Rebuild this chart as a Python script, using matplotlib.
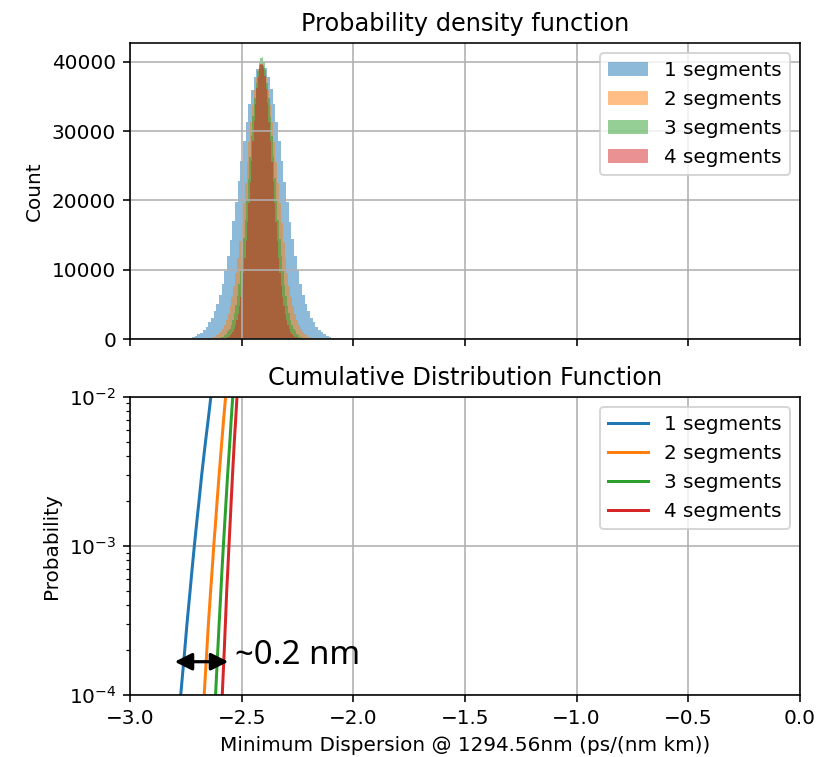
import numpy as np
import matplotlib
matplotlib.use("Agg")
import matplotlib.pyplot as plt

# --- data ---
SEGMENT_LABELS = ["1 segments", "2 segments", "3 segments", "4 segments"]

# histogram: first bin edge and bin width of each series, then the counts (left to right)
HIST_LO = [-2.734, -2.6395, -2.599, -2.572]
HIST_BIN_WIDTH = [0.012, 0.0085, 0.007, 0.006]

counts_1seg = [
    200, 330, 460, 690, 940, 1320, 1780, 2420, 3080, 4020, 5080, 6420, 7980, 9870,
    12050, 14350, 17050, 19750, 22750, 25650, 28650, 31250, 33950, 35950, 37850, 38950, 39550,
    39450, 39050, 37750, 36050, 33850, 31350, 28550, 25750, 22650, 19850, 16950, 14450, 11950,
    9920, 7980, 6430, 5060, 4030, 3090, 2410, 1790, 1310, 960, 670, 480, 310, 220,
]
counts_2seg = [
    160, 250, 360, 540, 770, 1090, 1490, 2080, 2770, 3680, 4760, 6080, 7660, 9560,
    11720, 14120, 16780, 19640, 22580, 25560, 28500, 31280, 33820, 35980, 37720, 38900, 39560,
    39500, 38880, 37760, 35940, 33760, 31300, 28460, 25520, 22520, 19580, 16760, 14080, 11700,
    9520, 7640, 6060, 4720, 3640, 2740, 2060, 1480, 1070, 760, 530, 370, 240, 160,
]
counts_3seg = [
    170, 245, 380, 550, 770, 1110, 1520, 2100, 2800, 3730, 4870, 6210, 7890, 9780,
    12040, 14520, 17180, 20140, 23120, 26260, 29230, 32160, 34720, 37010, 38730, 40020, 40580,
    40660, 39960, 38790, 36950, 34780, 32100, 29290, 26200, 23180, 20080, 17220, 14460, 12030,
    9810, 7860, 6250, 4830, 3740, 2800, 2100, 1520, 1110, 770, 550, 370, 255, 160,
]
counts_4seg = [
    155, 255, 365, 525, 770, 1060, 1500, 2050, 2760, 3650, 4730, 6100, 7690, 9600,
    11760, 14150, 16850, 19700, 22610, 25680, 28580, 31450, 33950, 36200, 37880, 39140, 39700,
    39740, 39080, 37930, 36140, 34010, 31390, 28640, 25620, 22660, 19640, 16840, 14150, 11770,
    9560, 7720, 6070, 4760, 3620, 2760, 2030, 1500, 1060, 770, 520, 375, 245, 165,
]
HIST_COUNTS = [counts_1seg, counts_2seg, counts_3seg, counts_4seg]

# cumulative distribution: probability levels and the dispersion value reached at each
CDF_PROB = [5e-5, 1e-4, 2e-4, 3e-4, 5e-4, 7e-4, 1e-3, 1.5e-3, 2e-3, 3e-3, 5e-3, 7e-3, 1e-2, 1.5e-2]
cdf_1seg = [-2.789, -2.773, -2.755, -2.745, -2.731, -2.722, -2.712,
            -2.700, -2.691, -2.679, -2.662, -2.650, -2.638, -2.622]
cdf_2seg = [-2.680, -2.668, -2.656, -2.649, -2.639, -2.632, -2.625,
            -2.616, -2.610, -2.601, -2.589, -2.581, -2.572, -2.561]
cdf_3seg = [-2.627, -2.617, -2.607, -2.601, -2.593, -2.588, -2.582,
            -2.575, -2.570, -2.563, -2.553, -2.547, -2.540, -2.531]
cdf_4seg = [-2.595, -2.587, -2.578, -2.573, -2.567, -2.562, -2.557,
            -2.551, -2.547, -2.541, -2.533, -2.527, -2.521, -2.514]
CDF_X = [cdf_1seg, cdf_2seg, cdf_3seg, cdf_4seg]

DPI = 144
fig = plt.figure(figsize=(823 / DPI, 757 / DPI), dpi=DPI)
ax_pdf = fig.add_axes([0.158, 0.552, 0.814, 0.391])
ax_cdf = fig.add_axes([0.158, 0.082, 0.814, 0.394], sharex=ax_pdf)

# Probability density function
for lo, bw, counts, label in zip(HIST_LO, HIST_BIN_WIDTH, HIST_COUNTS, SEGMENT_LABELS):
    edges = lo + bw * np.arange(len(counts) + 1)
    ax_pdf.hist(edges[:-1], bins=edges, weights=counts, alpha=0.5, label=label)
ax_pdf.set_title("Probability density function")
ax_pdf.set_ylabel("Count")
ax_pdf.grid(True)
ax_pdf.legend(loc="upper right")
ax_pdf.tick_params(labelbottom=False)

# Cumulative distribution function
for xs, label in zip(CDF_X, SEGMENT_LABELS):
    ax_cdf.plot(xs, CDF_PROB, label=label)
ax_cdf.set_yscale("log")
ax_cdf.set_ylim(1e-4, 1e-2)
ax_cdf.set_xlim(-3.0, 0.0)
ax_cdf.set_title("Cumulative Distribution Function")
ax_cdf.set_ylabel("Probability")
ax_cdf.set_xlabel("Minimum Dispersion @ 1294.56nm (ps/(nm km))")
ax_cdf.grid(True)
ax_cdf.legend(loc="upper right")

# spread marker between 1 and 4 segments
ax_cdf.annotate("", xy=(-2.56, 1.67e-4), xytext=(-2.80, 1.67e-4),
                arrowprops=dict(arrowstyle="<|-|>", color="black", lw=1.6,
                                mutation_scale=18, shrinkA=0, shrinkB=0))
ax_cdf.text(-2.53, 1.85e-4, "~0.2 nm", fontsize=16.5, va="center", ha="left",
            family=["Noto Sans", "DejaVu Sans"])

fig.savefig("out.png", dpi=DPI)
